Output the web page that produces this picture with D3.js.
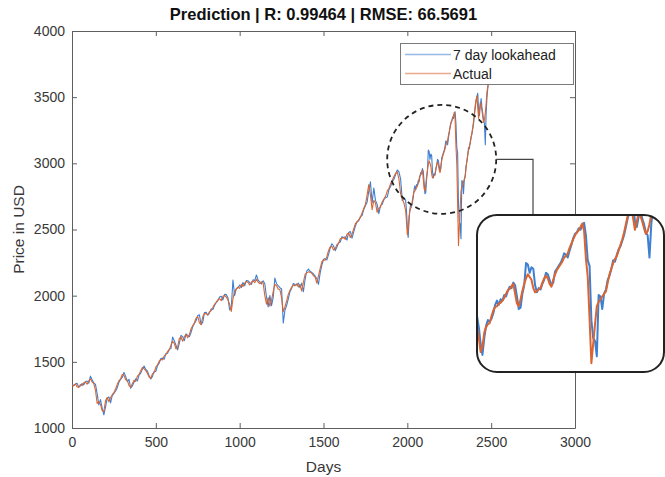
<!DOCTYPE html>
<html><head><meta charset="utf-8">
<script src="https://cdn.jsdelivr.net/npm/d3@7"></script>
<style>
html,body{margin:0;padding:0;background:#fff;}
svg{display:block;font-family:"Liberation Sans",Arial,Helvetica,sans-serif;}
</style></head><body>
<svg id="chart" width="665" height="477"></svg>
<script>
// Trading-day index: every 10 days up to 1980, every 5 days afterwards
const dayIndex = d3.range(0, 1990, 10).concat(d3.range(1990, 2495, 5));

// Closing price (USD)
const actual = [
  1325,1318,1334,1312,1306,1328,1320,1342,1347,1331,1356,1372,1348,1336,1285,1185,1202,1176,1132,1125,1208,1230,1198,1228,1252,
  1268,1295,1330,1358,1372,1405,1398,1365,1362,1320,1308,1335,1360,1352,1392,1405,1432,1458,1447,1435,1412,1385,1376,1410,1418,
  1460,1478,1505,1518,1515,1545,1556,1578,1590,1625,1655,1640,1598,1612,1675,1688,1655,1690,1706,1682,1705,1750,1772,1795,1830,
  1842,1795,1782,1840,1868,1862,1855,1878,1888,1910,1935,1950,1968,1978,1962,1995,2002,1990,1968,1935,1880,1975,2035,2050,2065,
  2055,2085,2070,2095,2108,2100,2080,2104,2112,2098,2125,2102,2090,2105,2095,2000,1935,1985,1920,1965,2030,2085,2075,2050,2045,
  1985,1880,1915,1960,2010,2040,2065,2080,2075,2090,2065,2085,2035,2100,2160,2172,2180,2178,2170,2150,2140,2095,2150,2205,2255,
  2270,2268,2295,2340,2370,2372,2345,2355,2385,2395,2430,2435,2438,2425,2465,2475,2440,2465,2505,2545,2555,2575,2590,2625,2660,
  2690,2760,2840,2760,2650,2720,2700,2630,2660,2670,2710,2730,2750,2790,2810,2845,2870,2900,2925,2935,2880,2770,2730,2700,
  2640,2560,2460,2500,2600,2640,2660,2670,2720,2760,
  2785,2790,2810,2815,2830,2850,2880,2905,2915,2935,
  2950,2880,2810,2790,2840,2900,2950,2990,3020,3000,
  2980,2920,2890,2900,2910,2920,2960,2990,3010,2990,
  2950,2930,2980,3020,3050,3070,3090,3110,3140,3150,
  3170,3210,3240,3270,3300,3320,3335,3360,3385,3330,
  3130,3000,2700,2380,2520,2660,2790,2820,2840,2860,
  2880,2895,2960,3020,3060,3100,3130,3150,3190,3230,
  3270,3320,3380,3440,3480,3510,3420,3340,3400,3460,
  3440,3400,3350,3310,3330,3380,3450,3540,3580,3620,
  3650
];

// Model output, 7 trading days ahead (USD)
const lookahead = [
  1330,1322,1330,1338,1310,1318,1335,1325,1352,1355,1338,1392,1365,1340,1330,1260,1175,1215,1150,1100,1160,1225,1235,1190,1245,
  1262,1280,1305,1345,1368,1382,1420,1390,1350,1368,1300,1318,1345,1372,1355,1400,1415,1445,1468,1442,1430,1395,1370,1390,1428,
  1428,1470,1490,1525,1528,1520,1562,1565,1595,1600,1688,1660,1625,1590,1640,1700,1690,1660,1712,1700,1690,1722,1765,1790,1810,
  1850,1855,1780,1800,1872,1875,1852,1870,1900,1895,1925,1948,1962,1990,1995,1968,2010,2008,1985,1892,1910,2118,2000,2055,2060,
  2080,2062,2100,2075,2115,2112,2098,2085,2120,2115,2156,2118,2105,2088,2112,2090,1990,1915,2000,1925,1985,2133,2090,2075,2060,
  2050,1793,1890,1925,1975,2030,2055,2092,2085,2080,2095,2060,2095,2030,2120,2185,2200,2185,2175,2165,2148,2130,2085,2170,2230,
  2275,2280,2270,2310,2360,2392,2375,2340,2368,2400,2405,2445,2440,2445,2420,2478,2485,2435,2480,2525,2560,2565,2598,2605,2650,
  2680,2705,2790,2860,2700,2814,2720,2690,2620,2680,2690,2725,2740,2745,2800,2825,2860,2880,2915,2950,2935,2880,2720,2740,
  2720,2640,2520,2440,2560,2650,2690,2680,2700,2740,
  2800,2830,2800,2840,2830,2870,2860,2900,2930,2920,
  2960,2940,2860,2770,2780,2880,2940,3100,3090,3030,
  3070,3060,2940,2890,2920,2910,2950,2980,3030,3020,
  2980,2940,2960,3040,3060,3080,3100,3130,3170,3160,
  3140,3190,3230,3280,3310,3320,3350,3340,3370,3390,
  3300,3120,3080,2690,2560,2540,2430,2870,2860,2770,
  2880,2910,2980,3010,3060,3120,3110,3160,3200,3220,
  3260,3300,3360,3420,3470,3500,3530,3400,3360,3430,
  3490,3420,3380,3320,3300,3140,3380,3500,3570,3630,
  3670
];

const xTickValues = [0, 500, 1000, 1500, 2000, 2500, 3000];
const yTickValues = [1000, 1500, 2000, 2500, 3000, 3500, 4000];
const seriesNames = ["7 day lookahead", "Actual"];
const seriesColors = ["#3d7fd0", "#db6430"];
const chartTitle = "Prediction | R: 0.99464 | RMSE: 66.5691";
const xLabel = "Days";
const yLabel = "Price in USD";
// detail window shown in the magnifier
const detailDays = [1990, 2505];
const detailPrice = [2317, 3446];
const focusCenter = [2205, 3030];

const svg = d3.select("#chart");
const plot = {left: 72, right: 575, top: 31, bottom: 428};

const x = d3.scaleLinear().domain([0, 3000]).range([plot.left, plot.right]);
const y = d3.scaleLinear().domain([1000, 4000]).range([plot.bottom, plot.top]);

const seriesData = [lookahead, actual].map(vals => dayIndex.map((d, i) => ({day: d, v: vals[i]})));

const axisColor = "#5e5e5e";
const textColor = "#383838";
const fmt = d3.format("d");

// axes box with inward ticks on all four sides
const gx = svg.append("g").attr("transform", `translate(0,${plot.bottom})`)
  .call(d3.axisBottom(x).tickValues(xTickValues).tickFormat(fmt).tickSizeInner(-5).tickSizeOuter(0).tickPadding(9));
const gxTop = svg.append("g").attr("transform", `translate(0,${plot.top})`)
  .call(d3.axisTop(x).tickValues(xTickValues).tickSizeInner(-5).tickSizeOuter(0).tickFormat(""));
const gy = svg.append("g").attr("transform", `translate(${plot.left},0)`)
  .call(d3.axisLeft(y).tickValues(yTickValues).tickFormat(fmt).tickSizeInner(-5).tickSizeOuter(0).tickPadding(7));
const gyRight = svg.append("g").attr("transform", `translate(${plot.right},0)`)
  .call(d3.axisRight(y).tickValues(yTickValues).tickSizeInner(-5).tickSizeOuter(0).tickFormat(""));
[gx, gxTop, gy, gyRight].forEach(g => {
  g.selectAll(".domain").attr("stroke", axisColor).attr("stroke-width", 1);
  g.selectAll(".tick line").attr("stroke", axisColor).attr("stroke-width", 1);
  g.selectAll(".tick text").attr("fill", textColor).style("font-size", "14px")
    .style("font-family", '"Liberation Sans",Arial,sans-serif');
});

// titles
svg.append("text").attr("x", (plot.left + plot.right) / 2).attr("y", 20)
  .attr("text-anchor", "middle").style("font-size", "16.5px").style("font-weight", "bold")
  .attr("fill", "#111").text(chartTitle);
svg.append("text").attr("x", (plot.left + plot.right) / 2).attr("y", 472)
  .attr("text-anchor", "middle").style("font-size", "15.5px").attr("fill", textColor).text(xLabel);
svg.append("text").attr("transform", `translate(24,${(plot.top + plot.bottom) / 2}) rotate(-90)`)
  .attr("text-anchor", "middle").style("font-size", "15.5px").attr("fill", textColor).text(yLabel);

// main series
svg.append("clipPath").attr("id", "plotClip").append("rect")
  .attr("x", plot.left).attr("y", plot.top).attr("width", plot.right - plot.left).attr("height", plot.bottom - plot.top);
const line = d3.line().x(d => x(d.day)).y(d => y(d.v));
const gLines = svg.append("g").attr("clip-path", "url(#plotClip)");
seriesData.forEach((s, i) => {
  gLines.append("path").datum(s).attr("d", line).attr("fill", "none")
    .attr("stroke", seriesColors[i]).attr("stroke-width", 1.1).attr("stroke-linejoin", "round");
});

// legend
const lg = svg.append("g").attr("transform", "translate(400,43)");
lg.append("rect").attr("x", 0.5).attr("y", 0.5).attr("width", 173).attr("height", 41)
  .attr("fill", "#fff").attr("stroke", "#7a7a7a").attr("stroke-width", 1);
seriesNames.forEach((name, i) => {
  const yy = 11.5 + i * 19;
  lg.append("line").attr("x1", 5).attr("x2", 51).attr("y1", yy).attr("y2", yy)
    .attr("stroke", seriesColors[i]).attr("stroke-opacity", 0.55).attr("stroke-width", 1.3);
  lg.append("text").attr("x", 53).attr("y", yy + 5).style("font-size", "14px")
    .attr("fill", "#222").text(name);
});

// dashed focus ring and connector
const cx = x(focusCenter[0]), cy = y(focusCenter[1]), ringR = 54.5;
svg.append("circle").attr("cx", cx).attr("cy", cy).attr("r", ringR)
  .attr("fill", "none").attr("stroke", "#222").attr("stroke-width", 1.8).attr("stroke-dasharray", "5,4");
const inset = {x: 477, y: 215, w: 187, h: 157, r: 20};
const connX = 533;
svg.append("path")
  .attr("d", `M${cx + ringR},${cy}H${connX}V${inset.y}`)
  .attr("fill", "none").attr("stroke", "#444").attr("stroke-width", 1.2);

// magnified detail panel
svg.append("clipPath").attr("id", "insetClip").append("rect")
  .attr("x", inset.x).attr("y", inset.y).attr("width", inset.w).attr("height", inset.h).attr("rx", inset.r);
svg.append("rect").attr("x", inset.x).attr("y", inset.y).attr("width", inset.w).attr("height", inset.h)
  .attr("rx", inset.r).attr("fill", "#fff");
const xi = d3.scaleLinear().domain(detailDays).range([inset.x, inset.x + inset.w]);
const yi = d3.scaleLinear().domain(detailPrice).range([inset.y + inset.h, inset.y]);
const lineInset = d3.line().x(d => xi(d.day)).y(d => yi(d.v));
const gInset = svg.append("g").attr("clip-path", "url(#insetClip)");
seriesData.forEach((s, i) => {
  gInset.append("path").datum(s.filter(d => d.day >= detailDays[0] - 10)).attr("d", lineInset).attr("fill", "none")
    .attr("stroke", seriesColors[i]).attr("stroke-width", 2).attr("stroke-linejoin", "round");
});
svg.append("rect").attr("x", inset.x).attr("y", inset.y).attr("width", inset.w).attr("height", inset.h)
  .attr("rx", inset.r).attr("fill", "none").attr("stroke", "#222").attr("stroke-width", 2);
</script>
</body></html>
